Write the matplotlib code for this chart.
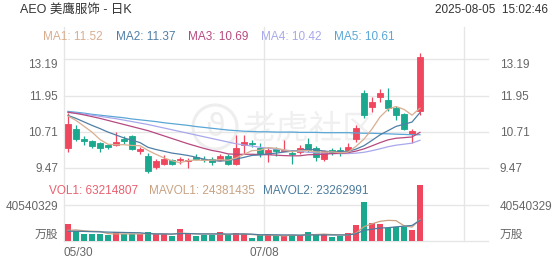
import matplotlib
matplotlib.use('Agg')
import matplotlib.pyplot as plt
from matplotlib.lines import Line2D
from matplotlib.patches import Circle
import matplotlib.transforms as mtransforms

plt.rcParams['font.family'] = ['Liberation Sans', 'Noto Sans CJK SC', 'DejaVu Sans']

# ---------------- data ----------------
opens = [10.17, 10.80, 10.48, 10.39, 10.31, 10.25, 10.27, 10.475, 10.56, 10.055,
         9.87, 9.51, 9.59, 9.735, 9.735, 9.70, 9.85, 9.79, 9.77, 9.76,
         9.87, 9.62, 10.25, 10.33, 10.17, 9.94, 10.11, 10.06, 9.975, 10.01,
         10.29, 10.14, 9.79, 10.10, 10.10, 10.08, 10.45, 12.03, 11.55, 11.89,
         11.80, 11.52, 11.31, 10.65, 11.42]
highs = [11.35, 10.94, 10.57, 10.42, 10.37, 10.29, 10.71, 10.57, 10.60, 10.19,
         9.97, 9.79, 9.90, 9.79, 9.85, 9.81, 9.96, 9.87, 9.85, 9.96,
         9.96, 10.60, 10.60, 10.42, 10.33, 10.19, 10.19, 10.42, 10.08, 10.25,
         10.49, 10.235, 10.08, 10.17, 10.19, 10.32, 10.94, 12.15, 11.92, 12.17,
         12.20, 11.60, 11.34, 10.79, 13.41]
lows = [10.02, 10.40, 10.25, 10.17, 10.02, 10.12, 10.22, 10.29, 10.08, 9.94,
        9.31, 9.43, 9.56, 9.56, 9.62, 9.48, 9.735, 9.67, 9.56, 9.70,
        9.56, 9.56, 9.965, 10.19, 9.83, 9.68, 9.87, 10.045, 9.62, 9.96,
        10.02, 9.71, 9.70, 9.91, 9.87, 10.02, 10.37, 11.17, 11.40, 11.74,
        11.43, 11.11, 10.77, 10.31, 11.28]
closes = [10.99, 10.45, 10.40, 10.235, 10.15, 10.18, 10.37, 10.40, 10.11, 10.11,
          9.37, 9.70, 9.79, 9.62, 9.77, 9.735, 9.79, 9.735, 9.66, 9.87,
          9.62, 10.17, 10.37, 10.29, 9.94, 10.08, 10.055, 10.10, 9.94, 10.15,
          10.08, 9.84, 10.045, 9.995, 9.995, 10.19, 10.83, 11.28, 11.74, 12.05,
          11.52, 11.29, 10.80, 10.74, 13.29]
volumes = [19.1e6, 11.5e6, 7.5e6, 7.5e6, 8.2e6, 6.8e6, 9.8e6, 7.5e6, 7.5e6, 7.5e6,
           9.8e6, 7.5e6, 7.5e6, 6.0e6, 13.5e6, 7.5e6, 6.0e6, 6.8e6, 6.8e6, 9.8e6,
           6.8e6, 8.6e6, 7.5e6, 3.9e6, 6.2e6, 7.9e6, 5.5e6, 5.6e6, 6.8e6, 6.8e6,
           10.5e6, 6.8e6, 7.9e6, 4.1e6, 5.6e6, 9.2e6, 17.8e6, 44.2e6, 19.8e6, 19.7e6,
           14.8e6, 16.2e6, 15.3e6, 12.4e6, 63214807]

ma1 = [11.25, 11.10, 10.90, 10.70, 10.445, 10.283, 10.267, 10.267, 10.242, 10.234,
       10.072, 9.938, 9.816, 9.718, 9.65, 9.723, 9.741, 9.73, 9.738, 9.758,
       9.735, 9.811, 9.938, 10.064, 10.078, 10.17, 10.147, 10.093, 10.023, 10.065,
       10.065, 10.022, 10.011, 10.022, 9.991, 10.013, 10.211, 10.458, 10.807, 11.218,
       11.484, 11.576, 11.48, 11.28, 11.52]
ma2 = [11.27, 11.17, 11.05, 10.93, 10.82, 10.70, 10.60, 10.50, 10.42, 10.34,
       10.178, 10.103, 10.042, 9.98, 9.942, 9.898, 9.84, 9.773, 9.728, 9.704,
       9.729, 9.776, 9.834, 9.901, 9.918, 9.953, 9.979, 10.016, 10.044, 10.072,
       10.118, 10.085, 10.052, 10.023, 10.028, 10.039, 10.117, 10.235, 10.415, 10.605,
       10.749, 10.894, 10.969, 11.044, 11.37]
ma3 = [11.38, 11.34, 11.29, 11.23, 11.17, 11.10, 11.03, 10.96, 10.89, 10.82,
       10.75, 10.66, 10.57, 10.48, 10.39, 10.30, 10.22, 10.14, 10.07, 10.022,
       9.953, 9.939, 9.938, 9.94, 9.93, 9.925, 9.909, 9.894, 9.886, 9.888,
       9.923, 9.93, 9.943, 9.962, 9.973, 9.996, 10.048, 10.125, 10.229, 10.338,
       10.433, 10.489, 10.51, 10.533, 10.69]
ma4 = [11.38, 11.35, 11.32, 11.28, 11.24, 11.20, 11.16, 11.11, 11.06, 11.01,
       10.96, 10.90, 10.84, 10.78, 10.72, 10.66, 10.60, 10.54, 10.48, 10.42,
       10.36, 10.30, 10.26, 10.22, 10.18, 10.15, 10.12, 10.09, 10.06, 10.038,
       10.008, 9.988, 9.976, 9.968, 9.963, 9.963, 9.978, 10.008, 10.062, 10.127,
       10.198, 10.251, 10.285, 10.322, 10.42]
ma5 = [11.41, 11.38, 11.35, 11.31, 11.28, 11.25, 11.22, 11.19, 11.15, 11.12,
       11.09, 11.06, 11.02, 10.99, 10.96, 10.93, 10.89, 10.86, 10.83, 10.80,
       10.77, 10.75, 10.73, 10.72, 10.71, 10.71, 10.70, 10.70, 10.70, 10.69,
       10.69, 10.69, 10.68, 10.68, 10.68, 10.68, 10.67, 10.66, 10.66, 10.65,
       10.64, 10.63, 10.62, 10.61, 10.61]
mavol1 = [12.0e6, 12.5e6, 11.5e6, 11.0e6, 10.72e6, 8.26e6, 7.96e6, 7.96e6, 7.96e6, 7.82e6,
          8.42e6, 7.96e6, 7.96e6, 7.66e6, 8.86e6, 8.4e6, 8.1e6, 7.96e6, 8.12e6, 7.38e6,
          7.24e6, 7.76e6, 7.9e6, 7.32e6, 6.6e6, 6.82e6, 6.2e6, 5.82e6, 6.4e6, 6.52e6,
          7.04e6, 7.3e6, 7.76e6, 7.22e6, 6.98e6, 6.72e6, 8.92e6, 16.18e6, 19.32e6, 22.14e6,
          23.26e6, 22.94e6, 17.16e6, 15.68e6, 24381435]
mavol2 = [11.0e6, 11.0e6, 10.8e6, 10.5e6, 10.3e6, 10.0e6, 9.8e6, 9.6e6, 9.4e6, 9.27e6,
          8.34e6, 7.96e6, 7.96e6, 7.81e6, 8.34e6, 8.41e6, 8.03e6, 7.96e6, 7.89e6, 8.12e6,
          7.82e6, 7.93e6, 7.93e6, 7.72e6, 6.99e6, 7.03e6, 6.98e6, 6.86e6, 6.86e6, 6.56e6,
          6.93e6, 6.75e6, 6.79e6, 6.81e6, 6.75e6, 6.88e6, 8.11e6, 11.97e6, 13.27e6, 14.56e6,
          14.99e6, 15.93e6, 16.67e6, 17.5e6, 23262991]

price_ticks = [9.47, 10.71, 11.95, 13.19]
price_tick_labels = ['9.47', '10.71', '11.95', '13.19']
vol_tick = 40540329
date_labels = ['05/30', '07/08']
date_pos = [-0.5, 24.5]
ma_names = ['MA1', 'MA2', 'MA3', 'MA4', 'MA5']
ma_last = ['11.52', '11.37', '10.69', '10.42', '10.61']

# ---------------- style ----------------
RED = '#f0475f'
GREEN = '#1aa88f'
MA_COLORS = ['#d9ae90', '#4f7fa6', '#b64a80', '#a8a8ec', '#5aa6d6']
GRID = '#e6e6e6'
LBL = '#666666'

W, H = 552, 265
fig = plt.figure(figsize=(W / 100, H / 100), dpi=100)
fig.patch.set_facecolor('white')


def rect(l, t, r, b):
    return [l / W, 1 - b / H, (r - l) / W, (b - t) / H]


bg = fig.add_axes([0, 0, 1, 1], zorder=0)
bg.set_xlim(0, W)
bg.set_ylim(H, 0)
bg.axis('off')
for xv in (64, 264, 464):
    bg.add_line(Line2D([xv, xv], [27, 241], color=GRID, lw=1))
# faint watermark
bg.add_patch(Circle((215, 127), 22, fill=False, ec='#eeeeee', lw=2.2))
bg.text(215, 128, 'ϑ', fontsize=23, color='#eeeeee', ha='center', va='center',
        family='DejaVu Sans')
bg.text(243, 129, '老虎社区', fontsize=24, color='#f0f0f0', ha='left', va='center',
        family='Noto Sans CJK SC', style='italic')

ax = fig.add_axes(rect(64, 50, 464, 176), zorder=2)
axv = fig.add_axes(rect(64, 184, 464, 241), zorder=2)
for a in (ax, axv):
    a.patch.set_alpha(0)
    for s in a.spines.values():
        s.set_visible(False)
    a.set_xlim(-0.5, 49.5)

n = len(closes)
xs = list(range(n))
cols = [RED if c >= o else GREEN for o, c in zip(opens, closes)]

# price panel
ax.set_ylim(9.195, 13.514)
for t in price_ticks:
    ax.axhline(t, xmin=0, xmax=(488 - 64) / 400, color=GRID, lw=1, clip_on=False, zorder=0)
ax.vlines(xs, lows, highs, colors=cols, lw=0.9, zorder=3)
ax.bar(xs, [abs(c - o) for o, c in zip(opens, closes)],
       bottom=[min(o, c) for o, c in zip(opens, closes)],
       width=0.66, color=cols, edgecolor=cols, linewidth=0.6, zorder=4)
for m, colr in zip([ma5, ma4, ma3, ma2, ma1], MA_COLORS[::-1]):
    ax.plot(xs, m, color=colr, lw=0.9, zorder=5)
ax.set_yticks(price_ticks)
ax.set_yticklabels(price_tick_labels)
ax.tick_params(axis='y', length=0, labelsize=8.5, labelcolor=LBL, pad=4.3,
               labelleft=True, labelright=True)
ax.set_xticks([])
shift_down = mtransforms.ScaledTranslation(0, -4 / 100, fig.dpi_scale_trans)
for k, tk in enumerate(ax.yaxis.get_major_ticks()):
    tk.label2.set_x(1 + 30 / 400)
    tk.label2.set_horizontalalignment('left')
    if k == len(price_ticks) - 1:
        tk.label1.set_transform(tk.label1.get_transform() + shift_down)
        tk.label2.set_transform(tk.label2.get_transform() + shift_down)

# volume panel
axv.set_ylim(0, 64.2e6)
axv.axhline(vol_tick, xmin=0, xmax=(488 - 64) / 400, color=GRID, lw=1, clip_on=False, zorder=0)
axv.axhline(0, xmin=0, xmax=(488 - 64) / 400, color=GRID, lw=1, clip_on=False, zorder=0)
axv.bar(xs, volumes, width=0.66, color=cols, zorder=3)
axv.plot(xs, mavol1, color='#c9a282', lw=0.9, zorder=4)
axv.plot(xs, mavol2, color='#4d7b9c', lw=0.9, zorder=4)
axv.set_yticks([0, vol_tick])
axv.set_yticklabels(['万股', str(vol_tick)])
axv.tick_params(axis='y', length=0, labelsize=8.5, labelcolor=LBL, pad=4.3,
                labelleft=True, labelright=True)
for k, tk in enumerate(axv.yaxis.get_major_ticks()):
    tk.label2.set_x(1 + 30 / 400)
    tk.label2.set_horizontalalignment('left')
    if k == 0:
        tk.label1.set_verticalalignment('bottom')
        tk.label2.set_verticalalignment('bottom')

axv.set_xticks(date_pos)
axv.set_xticklabels(date_labels)
axv.tick_params(axis='x', length=0, labelsize=8.5, labelcolor=LBL, pad=4.5)
axv.get_xticklabels()[0].set_horizontalalignment('left')

# header texts
fig.text(20 / W, 1 - 10 / H, 'AEO 美鹰服饰 - 日K', fontsize=9, color='#333333', va='center')
fig.text(548 / W, 1 - 10 / H, '2025-08-05  15:02:46', fontsize=8.5, color='#333333',
         va='center', ha='right')
ma_x = [43, 116, 188, 261, 334]
for xp, nm, v, colr in zip(ma_x, ma_names, ma_last, MA_COLORS):
    fig.text(xp / W, 1 - 37 / H, f'{nm}: {v}', fontsize=8.5, color=colr, va='center')
vol_leg = [(49, 'VOL1: 63214807', '#e8606f'), (149, 'MAVOL1: 24381435', '#c9a282'),
           (263, 'MAVOL2: 23262991', '#4d7b9c')]
for xp, t, colr in vol_leg:
    fig.text(xp / W, 1 - 191 / H, t, fontsize=8.5, color=colr, va='center')

fig.savefig('out.png', dpi=100, facecolor='white')
